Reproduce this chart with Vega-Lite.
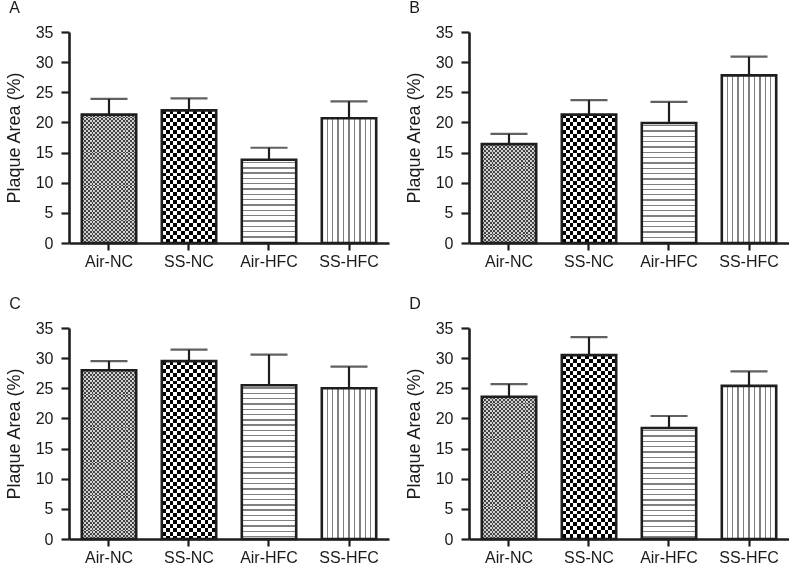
{
"$schema": "https://vega.github.io/schema/vega-lite/v6.json",
"background": "white",
"padding": {"left": 5, "top": 0, "right": 0, "bottom": 0},
"params": [
{"name": "hsStops", "value": [
{"offset":0.012,"color":"#fff"},{"offset":0.012,"color":"#808080"},{"offset":0.02,"color":"#808080"},{"offset":0.02,"color":"#fff"},
{"offset":0.04325,"color":"#fff"},{"offset":0.04325,"color":"#808080"},{"offset":0.05125,"color":"#808080"},{"offset":0.05125,"color":"#fff"},
{"offset":0.0745,"color":"#fff"},{"offset":0.0745,"color":"#808080"},{"offset":0.0825,"color":"#808080"},{"offset":0.0825,"color":"#fff"},
{"offset":0.10575,"color":"#fff"},{"offset":0.10575,"color":"#808080"},{"offset":0.11375,"color":"#808080"},{"offset":0.11375,"color":"#fff"},
{"offset":0.137,"color":"#fff"},{"offset":0.137,"color":"#808080"},{"offset":0.145,"color":"#808080"},{"offset":0.145,"color":"#fff"},
{"offset":0.16825,"color":"#fff"},{"offset":0.16825,"color":"#808080"},{"offset":0.17625,"color":"#808080"},{"offset":0.17625,"color":"#fff"},
{"offset":0.1995,"color":"#fff"},{"offset":0.1995,"color":"#808080"},{"offset":0.2075,"color":"#808080"},{"offset":0.2075,"color":"#fff"},
{"offset":0.23075,"color":"#fff"},{"offset":0.23075,"color":"#808080"},{"offset":0.23875,"color":"#808080"},{"offset":0.23875,"color":"#fff"},
{"offset":0.262,"color":"#fff"},{"offset":0.262,"color":"#808080"},{"offset":0.27,"color":"#808080"},{"offset":0.27,"color":"#fff"},
{"offset":0.29325,"color":"#fff"},{"offset":0.29325,"color":"#808080"},{"offset":0.30125,"color":"#808080"},{"offset":0.30125,"color":"#fff"},
{"offset":0.3245,"color":"#fff"},{"offset":0.3245,"color":"#808080"},{"offset":0.3325,"color":"#808080"},{"offset":0.3325,"color":"#fff"},
{"offset":0.35575,"color":"#fff"},{"offset":0.35575,"color":"#808080"},{"offset":0.36375,"color":"#808080"},{"offset":0.36375,"color":"#fff"},
{"offset":0.387,"color":"#fff"},{"offset":0.387,"color":"#808080"},{"offset":0.395,"color":"#808080"},{"offset":0.395,"color":"#fff"},
{"offset":0.41825,"color":"#fff"},{"offset":0.41825,"color":"#808080"},{"offset":0.42625,"color":"#808080"},{"offset":0.42625,"color":"#fff"},
{"offset":0.4495,"color":"#fff"},{"offset":0.4495,"color":"#808080"},{"offset":0.4575,"color":"#808080"},{"offset":0.4575,"color":"#fff"},
{"offset":0.48075,"color":"#fff"},{"offset":0.48075,"color":"#808080"},{"offset":0.48875,"color":"#808080"},{"offset":0.48875,"color":"#fff"},
{"offset":0.512,"color":"#fff"},{"offset":0.512,"color":"#808080"},{"offset":0.52,"color":"#808080"},{"offset":0.52,"color":"#fff"},
{"offset":0.54325,"color":"#fff"},{"offset":0.54325,"color":"#808080"},{"offset":0.55125,"color":"#808080"},{"offset":0.55125,"color":"#fff"},
{"offset":0.5745,"color":"#fff"},{"offset":0.5745,"color":"#808080"},{"offset":0.5825,"color":"#808080"},{"offset":0.5825,"color":"#fff"},
{"offset":0.60575,"color":"#fff"},{"offset":0.60575,"color":"#808080"},{"offset":0.61375,"color":"#808080"},{"offset":0.61375,"color":"#fff"},
{"offset":0.637,"color":"#fff"},{"offset":0.637,"color":"#808080"},{"offset":0.645,"color":"#808080"},{"offset":0.645,"color":"#fff"},
{"offset":0.66825,"color":"#fff"},{"offset":0.66825,"color":"#808080"},{"offset":0.67625,"color":"#808080"},{"offset":0.67625,"color":"#fff"},
{"offset":0.6995,"color":"#fff"},{"offset":0.6995,"color":"#808080"},{"offset":0.7075,"color":"#808080"},{"offset":0.7075,"color":"#fff"},
{"offset":0.73075,"color":"#fff"},{"offset":0.73075,"color":"#808080"},{"offset":0.73875,"color":"#808080"},{"offset":0.73875,"color":"#fff"},
{"offset":0.762,"color":"#fff"},{"offset":0.762,"color":"#808080"},{"offset":0.77,"color":"#808080"},{"offset":0.77,"color":"#fff"},
{"offset":0.79325,"color":"#fff"},{"offset":0.79325,"color":"#808080"},{"offset":0.80125,"color":"#808080"},{"offset":0.80125,"color":"#fff"},
{"offset":0.8245,"color":"#fff"},{"offset":0.8245,"color":"#808080"},{"offset":0.8325,"color":"#808080"},{"offset":0.8325,"color":"#fff"},
{"offset":0.85575,"color":"#fff"},{"offset":0.85575,"color":"#808080"},{"offset":0.86375,"color":"#808080"},{"offset":0.86375,"color":"#fff"},
{"offset":0.887,"color":"#fff"},{"offset":0.887,"color":"#808080"},{"offset":0.895,"color":"#808080"},{"offset":0.895,"color":"#fff"},
{"offset":0.91825,"color":"#fff"},{"offset":0.91825,"color":"#808080"},{"offset":0.92625,"color":"#808080"},{"offset":0.92625,"color":"#fff"},
{"offset":0.9495,"color":"#fff"},{"offset":0.9495,"color":"#808080"},{"offset":0.9575,"color":"#808080"},{"offset":0.9575,"color":"#fff"},
{"offset":0.98075,"color":"#fff"},{"offset":0.98075,"color":"#808080"},{"offset":0.98875,"color":"#808080"},{"offset":0.98875,"color":"#fff"}
]},
{"name": "vsStops", "value": [
{"offset":0.0875,"color":"#fff"},{"offset":0.0875,"color":"#808080"},{"offset":0.1125,"color":"#808080"},{"offset":0.1125,"color":"#fff"},
{"offset":0.1875,"color":"#fff"},{"offset":0.1875,"color":"#808080"},{"offset":0.2125,"color":"#808080"},{"offset":0.2125,"color":"#fff"},
{"offset":0.2875,"color":"#fff"},{"offset":0.2875,"color":"#808080"},{"offset":0.3125,"color":"#808080"},{"offset":0.3125,"color":"#fff"},
{"offset":0.3875,"color":"#fff"},{"offset":0.3875,"color":"#808080"},{"offset":0.4125,"color":"#808080"},{"offset":0.4125,"color":"#fff"},
{"offset":0.4875,"color":"#fff"},{"offset":0.4875,"color":"#808080"},{"offset":0.5125,"color":"#808080"},{"offset":0.5125,"color":"#fff"},
{"offset":0.5875,"color":"#fff"},{"offset":0.5875,"color":"#808080"},{"offset":0.6125,"color":"#808080"},{"offset":0.6125,"color":"#fff"},
{"offset":0.6875,"color":"#fff"},{"offset":0.6875,"color":"#808080"},{"offset":0.7125,"color":"#808080"},{"offset":0.7125,"color":"#fff"},
{"offset":0.7875,"color":"#fff"},{"offset":0.7875,"color":"#808080"},{"offset":0.8125,"color":"#808080"},{"offset":0.8125,"color":"#fff"},
{"offset":0.8875,"color":"#fff"},{"offset":0.8875,"color":"#808080"},{"offset":0.9125,"color":"#808080"},{"offset":0.9125,"color":"#fff"}
]},
{"name": "ckRows", "value": [
{"offset":0,"color":"#000"},{"offset":0.01,"color":"#000"},{"offset":0.01,"color":"#fff"},{"offset":0.02,"color":"#fff"},
{"offset":0.02,"color":"#000"},{"offset":0.03,"color":"#000"},{"offset":0.03,"color":"#fff"},{"offset":0.04,"color":"#fff"},
{"offset":0.04,"color":"#000"},{"offset":0.05,"color":"#000"},{"offset":0.05,"color":"#fff"},{"offset":0.06,"color":"#fff"},
{"offset":0.06,"color":"#000"},{"offset":0.07,"color":"#000"},{"offset":0.07,"color":"#fff"},{"offset":0.08,"color":"#fff"},
{"offset":0.08,"color":"#000"},{"offset":0.09,"color":"#000"},{"offset":0.09,"color":"#fff"},{"offset":0.1,"color":"#fff"},
{"offset":0.1,"color":"#000"},{"offset":0.11,"color":"#000"},{"offset":0.11,"color":"#fff"},{"offset":0.12,"color":"#fff"},
{"offset":0.12,"color":"#000"},{"offset":0.13,"color":"#000"},{"offset":0.13,"color":"#fff"},{"offset":0.14,"color":"#fff"},
{"offset":0.14,"color":"#000"},{"offset":0.15,"color":"#000"},{"offset":0.15,"color":"#fff"},{"offset":0.16,"color":"#fff"},
{"offset":0.16,"color":"#000"},{"offset":0.17,"color":"#000"},{"offset":0.17,"color":"#fff"},{"offset":0.18,"color":"#fff"},
{"offset":0.18,"color":"#000"},{"offset":0.19,"color":"#000"},{"offset":0.19,"color":"#fff"},{"offset":0.2,"color":"#fff"},
{"offset":0.2,"color":"#000"},{"offset":0.21,"color":"#000"},{"offset":0.21,"color":"#fff"},{"offset":0.22,"color":"#fff"},
{"offset":0.22,"color":"#000"},{"offset":0.23,"color":"#000"},{"offset":0.23,"color":"#fff"},{"offset":0.24,"color":"#fff"},
{"offset":0.24,"color":"#000"},{"offset":0.25,"color":"#000"},{"offset":0.25,"color":"#fff"},{"offset":0.26,"color":"#fff"},
{"offset":0.26,"color":"#000"},{"offset":0.27,"color":"#000"},{"offset":0.27,"color":"#fff"},{"offset":0.28,"color":"#fff"},
{"offset":0.28,"color":"#000"},{"offset":0.29,"color":"#000"},{"offset":0.29,"color":"#fff"},{"offset":0.3,"color":"#fff"},
{"offset":0.3,"color":"#000"},{"offset":0.31,"color":"#000"},{"offset":0.31,"color":"#fff"},{"offset":0.32,"color":"#fff"},
{"offset":0.32,"color":"#000"},{"offset":0.33,"color":"#000"},{"offset":0.33,"color":"#fff"},{"offset":0.34,"color":"#fff"},
{"offset":0.34,"color":"#000"},{"offset":0.35,"color":"#000"},{"offset":0.35,"color":"#fff"},{"offset":0.36,"color":"#fff"},
{"offset":0.36,"color":"#000"},{"offset":0.37,"color":"#000"},{"offset":0.37,"color":"#fff"},{"offset":0.38,"color":"#fff"},
{"offset":0.38,"color":"#000"},{"offset":0.39,"color":"#000"},{"offset":0.39,"color":"#fff"},{"offset":0.4,"color":"#fff"},
{"offset":0.4,"color":"#000"},{"offset":0.41,"color":"#000"},{"offset":0.41,"color":"#fff"},{"offset":0.42,"color":"#fff"},
{"offset":0.42,"color":"#000"},{"offset":0.43,"color":"#000"},{"offset":0.43,"color":"#fff"},{"offset":0.44,"color":"#fff"},
{"offset":0.44,"color":"#000"},{"offset":0.45,"color":"#000"},{"offset":0.45,"color":"#fff"},{"offset":0.46,"color":"#fff"},
{"offset":0.46,"color":"#000"},{"offset":0.47,"color":"#000"},{"offset":0.47,"color":"#fff"},{"offset":0.48,"color":"#fff"},
{"offset":0.48,"color":"#000"},{"offset":0.49,"color":"#000"},{"offset":0.49,"color":"#fff"},{"offset":0.5,"color":"#fff"},
{"offset":0.5,"color":"#000"},{"offset":0.51,"color":"#000"},{"offset":0.51,"color":"#fff"},{"offset":0.52,"color":"#fff"},
{"offset":0.52,"color":"#000"},{"offset":0.53,"color":"#000"},{"offset":0.53,"color":"#fff"},{"offset":0.54,"color":"#fff"},
{"offset":0.54,"color":"#000"},{"offset":0.55,"color":"#000"},{"offset":0.55,"color":"#fff"},{"offset":0.56,"color":"#fff"},
{"offset":0.56,"color":"#000"},{"offset":0.57,"color":"#000"},{"offset":0.57,"color":"#fff"},{"offset":0.58,"color":"#fff"},
{"offset":0.58,"color":"#000"},{"offset":0.59,"color":"#000"},{"offset":0.59,"color":"#fff"},{"offset":0.6,"color":"#fff"},
{"offset":0.6,"color":"#000"},{"offset":0.61,"color":"#000"},{"offset":0.61,"color":"#fff"},{"offset":0.62,"color":"#fff"},
{"offset":0.62,"color":"#000"},{"offset":0.63,"color":"#000"},{"offset":0.63,"color":"#fff"},{"offset":0.64,"color":"#fff"},
{"offset":0.64,"color":"#000"},{"offset":0.65,"color":"#000"},{"offset":0.65,"color":"#fff"},{"offset":0.66,"color":"#fff"},
{"offset":0.66,"color":"#000"},{"offset":0.67,"color":"#000"},{"offset":0.67,"color":"#fff"},{"offset":0.68,"color":"#fff"},
{"offset":0.68,"color":"#000"},{"offset":0.69,"color":"#000"},{"offset":0.69,"color":"#fff"},{"offset":0.7,"color":"#fff"},
{"offset":0.7,"color":"#000"},{"offset":0.71,"color":"#000"},{"offset":0.71,"color":"#fff"},{"offset":0.72,"color":"#fff"},
{"offset":0.72,"color":"#000"},{"offset":0.73,"color":"#000"},{"offset":0.73,"color":"#fff"},{"offset":0.74,"color":"#fff"},
{"offset":0.74,"color":"#000"},{"offset":0.75,"color":"#000"},{"offset":0.75,"color":"#fff"},{"offset":0.76,"color":"#fff"},
{"offset":0.76,"color":"#000"},{"offset":0.77,"color":"#000"},{"offset":0.77,"color":"#fff"},{"offset":0.78,"color":"#fff"},
{"offset":0.78,"color":"#000"},{"offset":0.79,"color":"#000"},{"offset":0.79,"color":"#fff"},{"offset":0.8,"color":"#fff"},
{"offset":0.8,"color":"#000"},{"offset":0.81,"color":"#000"},{"offset":0.81,"color":"#fff"},{"offset":0.82,"color":"#fff"},
{"offset":0.82,"color":"#000"},{"offset":0.83,"color":"#000"},{"offset":0.83,"color":"#fff"},{"offset":0.84,"color":"#fff"},
{"offset":0.84,"color":"#000"},{"offset":0.85,"color":"#000"},{"offset":0.85,"color":"#fff"},{"offset":0.86,"color":"#fff"},
{"offset":0.86,"color":"#000"},{"offset":0.87,"color":"#000"},{"offset":0.87,"color":"#fff"},{"offset":0.88,"color":"#fff"},
{"offset":0.88,"color":"#000"},{"offset":0.89,"color":"#000"},{"offset":0.89,"color":"#fff"},{"offset":0.9,"color":"#fff"},
{"offset":0.9,"color":"#000"},{"offset":0.91,"color":"#000"},{"offset":0.91,"color":"#fff"},{"offset":0.92,"color":"#fff"},
{"offset":0.92,"color":"#000"},{"offset":0.93,"color":"#000"},{"offset":0.93,"color":"#fff"},{"offset":0.94,"color":"#fff"},
{"offset":0.94,"color":"#000"},{"offset":0.95,"color":"#000"},{"offset":0.95,"color":"#fff"},{"offset":0.96,"color":"#fff"},
{"offset":0.96,"color":"#000"},{"offset":0.97,"color":"#000"},{"offset":0.97,"color":"#fff"},{"offset":0.98,"color":"#fff"},
{"offset":0.98,"color":"#000"},{"offset":0.99,"color":"#000"},{"offset":0.99,"color":"#fff"},{"offset":1,"color":"#fff"}
]},
{"name": "ckCols", "value": [
{"offset":0,"color":"#000"},{"offset":0.035714,"color":"#000"},{"offset":0.035714,"color":"#fff"},{"offset":0.071429,"color":"#fff"},
{"offset":0.071429,"color":"#000"},{"offset":0.107143,"color":"#000"},{"offset":0.107143,"color":"#fff"},{"offset":0.142857,"color":"#fff"},
{"offset":0.142857,"color":"#000"},{"offset":0.178571,"color":"#000"},{"offset":0.178571,"color":"#fff"},{"offset":0.214286,"color":"#fff"},
{"offset":0.214286,"color":"#000"},{"offset":0.25,"color":"#000"},{"offset":0.25,"color":"#fff"},{"offset":0.285714,"color":"#fff"},
{"offset":0.285714,"color":"#000"},{"offset":0.321429,"color":"#000"},{"offset":0.321429,"color":"#fff"},{"offset":0.357143,"color":"#fff"},
{"offset":0.357143,"color":"#000"},{"offset":0.392857,"color":"#000"},{"offset":0.392857,"color":"#fff"},{"offset":0.428571,"color":"#fff"},
{"offset":0.428571,"color":"#000"},{"offset":0.464286,"color":"#000"},{"offset":0.464286,"color":"#fff"},{"offset":0.5,"color":"#fff"},
{"offset":0.5,"color":"#000"},{"offset":0.535714,"color":"#000"},{"offset":0.535714,"color":"#fff"},{"offset":0.571429,"color":"#fff"},
{"offset":0.571429,"color":"#000"},{"offset":0.607143,"color":"#000"},{"offset":0.607143,"color":"#fff"},{"offset":0.642857,"color":"#fff"},
{"offset":0.642857,"color":"#000"},{"offset":0.678571,"color":"#000"},{"offset":0.678571,"color":"#fff"},{"offset":0.714286,"color":"#fff"},
{"offset":0.714286,"color":"#000"},{"offset":0.75,"color":"#000"},{"offset":0.75,"color":"#fff"},{"offset":0.785714,"color":"#fff"},
{"offset":0.785714,"color":"#000"},{"offset":0.821429,"color":"#000"},{"offset":0.821429,"color":"#fff"},{"offset":0.857143,"color":"#fff"},
{"offset":0.857143,"color":"#000"},{"offset":0.892857,"color":"#000"},{"offset":0.892857,"color":"#fff"},{"offset":0.928571,"color":"#fff"},
{"offset":0.928571,"color":"#000"},{"offset":0.964286,"color":"#000"},{"offset":0.964286,"color":"#fff"},{"offset":1,"color":"#fff"}
]}
],
"data": {"values": [
{"panel":"A","group":"Air-NC","mean":21.3,"hi":23.9},
{"panel":"A","group":"SS-NC","mean":22.0,"hi":24.0},
{"panel":"A","group":"Air-HFC","mean":13.8,"hi":15.8},
{"panel":"A","group":"SS-HFC","mean":20.7,"hi":23.5},
{"panel":"B","group":"Air-NC","mean":16.4,"hi":18.1},
{"panel":"B","group":"SS-NC","mean":21.3,"hi":23.7},
{"panel":"B","group":"Air-HFC","mean":19.9,"hi":23.4},
{"panel":"B","group":"SS-HFC","mean":27.8,"hi":30.9},
{"panel":"C","group":"Air-NC","mean":28.0,"hi":29.5},
{"panel":"C","group":"SS-NC","mean":29.5,"hi":31.4},
{"panel":"C","group":"Air-HFC","mean":25.5,"hi":30.6},
{"panel":"C","group":"SS-HFC","mean":25.0,"hi":28.6},
{"panel":"D","group":"Air-NC","mean":23.6,"hi":25.7},
{"panel":"D","group":"SS-NC","mean":30.5,"hi":33.5},
{"panel":"D","group":"Air-HFC","mean":18.4,"hi":20.4},
{"panel":"D","group":"SS-HFC","mean":25.4,"hi":27.8}
]},
"columns": 2,
"spacing": {"row": 27, "column": 16},
"concat": [
{"title": "A", "width": 320, "height": 211,
 "transform": [{"filter": "datum.panel==='A'"}],
 "encoding": {
  "x": {"field": "group", "type": "nominal", "sort": ["Air-NC","SS-NC","Air-HFC","SS-HFC"], "title": null, "scale": {"paddingInner": 0.32, "paddingOuter": 0.16}},
  "y": {"field": "mean", "type": "quantitative", "title": "Plaque Area (%)", "scale": {"domain": [0, 35], "nice": false}, "axis": {"values": [0,5,10,15,20,25,30,35]}}
 },
 "layer": [
  {"mark": {"type": "bar", "strokeWidth": 0, "fill": {"expr": "datum.group==='Air-HFC' ? {'gradient':'linear','x1':0,'y1':0,'x2':0,'y2':170/(datum.mean*6.0286),'stops':hsStops} : datum.group==='SS-HFC' ? {'gradient':'linear','x1':0,'y1':0,'x2':1,'y2':0,'stops':vsStops} : datum.group==='SS-NC' ? {'gradient':'linear','x1':0,'y1':0,'x2':0,'y2':388.6/(datum.mean*6.0286),'stops':ckRows} : {'gradient':'linear','x1':0,'y1':0,'x2':0,'y2':194.3/(datum.mean*6.0286),'stops':ckRows}"}}},
  {"transform": [{"filter": "datum.group==='Air-NC' || datum.group==='SS-NC'"}],
   "mark": {"type": "bar", "strokeWidth": 0, "blend": "difference", "fill": {"expr": "{'gradient':'linear','x1':0,'y1':0,'x2':(datum.group==='SS-NC'?2:1),'y2':0,'stops':ckCols}"}}},
  {"mark": {"type": "rule", "color": "#1e1e1e", "strokeWidth": 2.2}, "encoding": {"y2": {"field": "hi"}}},
  {"mark": {"type": "bar", "fill": {"expr": "datum.group==='Air-NC' ? 'rgba(150,150,150,0.45)' : 'rgba(0,0,0,0)'"}, "stroke": "#1e1e1e", "strokeWidth": 2.6}},
  {"mark": {"type": "tick", "color": "#1e1e1e", "thickness": 2.2, "size": 37}, "encoding": {"y": {"field": "hi", "type": "quantitative", "title": "Plaque Area (%)"}}}
 ]
},
{"title": "B", "width": 320, "height": 211,
 "transform": [{"filter": "datum.panel==='B'"}],
 "encoding": {
  "x": {"field": "group", "type": "nominal", "sort": ["Air-NC","SS-NC","Air-HFC","SS-HFC"], "title": null, "scale": {"paddingInner": 0.32, "paddingOuter": 0.16}},
  "y": {"field": "mean", "type": "quantitative", "title": "Plaque Area (%)", "scale": {"domain": [0, 35], "nice": false}, "axis": {"values": [0,5,10,15,20,25,30,35]}}
 },
 "layer": [
  {"mark": {"type": "bar", "strokeWidth": 0, "fill": {"expr": "datum.group==='Air-HFC' ? {'gradient':'linear','x1':0,'y1':0,'x2':0,'y2':170/(datum.mean*6.0286),'stops':hsStops} : datum.group==='SS-HFC' ? {'gradient':'linear','x1':0,'y1':0,'x2':1,'y2':0,'stops':vsStops} : datum.group==='SS-NC' ? {'gradient':'linear','x1':0,'y1':0,'x2':0,'y2':388.6/(datum.mean*6.0286),'stops':ckRows} : {'gradient':'linear','x1':0,'y1':0,'x2':0,'y2':194.3/(datum.mean*6.0286),'stops':ckRows}"}}},
  {"transform": [{"filter": "datum.group==='Air-NC' || datum.group==='SS-NC'"}],
   "mark": {"type": "bar", "strokeWidth": 0, "blend": "difference", "fill": {"expr": "{'gradient':'linear','x1':0,'y1':0,'x2':(datum.group==='SS-NC'?2:1),'y2':0,'stops':ckCols}"}}},
  {"mark": {"type": "rule", "color": "#1e1e1e", "strokeWidth": 2.2}, "encoding": {"y2": {"field": "hi"}}},
  {"mark": {"type": "bar", "fill": {"expr": "datum.group==='Air-NC' ? 'rgba(150,150,150,0.45)' : 'rgba(0,0,0,0)'"}, "stroke": "#1e1e1e", "strokeWidth": 2.6}},
  {"mark": {"type": "tick", "color": "#1e1e1e", "thickness": 2.2, "size": 37}, "encoding": {"y": {"field": "hi", "type": "quantitative", "title": "Plaque Area (%)"}}}
 ]
},
{"title": "C", "width": 320, "height": 211,
 "transform": [{"filter": "datum.panel==='C'"}],
 "encoding": {
  "x": {"field": "group", "type": "nominal", "sort": ["Air-NC","SS-NC","Air-HFC","SS-HFC"], "title": null, "scale": {"paddingInner": 0.32, "paddingOuter": 0.16}},
  "y": {"field": "mean", "type": "quantitative", "title": "Plaque Area (%)", "scale": {"domain": [0, 35], "nice": false}, "axis": {"values": [0,5,10,15,20,25,30,35]}}
 },
 "layer": [
  {"mark": {"type": "bar", "strokeWidth": 0, "fill": {"expr": "datum.group==='Air-HFC' ? {'gradient':'linear','x1':0,'y1':0,'x2':0,'y2':170/(datum.mean*6.0286),'stops':hsStops} : datum.group==='SS-HFC' ? {'gradient':'linear','x1':0,'y1':0,'x2':1,'y2':0,'stops':vsStops} : datum.group==='SS-NC' ? {'gradient':'linear','x1':0,'y1':0,'x2':0,'y2':388.6/(datum.mean*6.0286),'stops':ckRows} : {'gradient':'linear','x1':0,'y1':0,'x2':0,'y2':194.3/(datum.mean*6.0286),'stops':ckRows}"}}},
  {"transform": [{"filter": "datum.group==='Air-NC' || datum.group==='SS-NC'"}],
   "mark": {"type": "bar", "strokeWidth": 0, "blend": "difference", "fill": {"expr": "{'gradient':'linear','x1':0,'y1':0,'x2':(datum.group==='SS-NC'?2:1),'y2':0,'stops':ckCols}"}}},
  {"mark": {"type": "rule", "color": "#1e1e1e", "strokeWidth": 2.2}, "encoding": {"y2": {"field": "hi"}}},
  {"mark": {"type": "bar", "fill": {"expr": "datum.group==='Air-NC' ? 'rgba(150,150,150,0.45)' : 'rgba(0,0,0,0)'"}, "stroke": "#1e1e1e", "strokeWidth": 2.6}},
  {"mark": {"type": "tick", "color": "#1e1e1e", "thickness": 2.2, "size": 37}, "encoding": {"y": {"field": "hi", "type": "quantitative", "title": "Plaque Area (%)"}}}
 ]
},
{"title": "D", "width": 320, "height": 211,
 "transform": [{"filter": "datum.panel==='D'"}],
 "encoding": {
  "x": {"field": "group", "type": "nominal", "sort": ["Air-NC","SS-NC","Air-HFC","SS-HFC"], "title": null, "scale": {"paddingInner": 0.32, "paddingOuter": 0.16}},
  "y": {"field": "mean", "type": "quantitative", "title": "Plaque Area (%)", "scale": {"domain": [0, 35], "nice": false}, "axis": {"values": [0,5,10,15,20,25,30,35]}}
 },
 "layer": [
  {"mark": {"type": "bar", "strokeWidth": 0, "fill": {"expr": "datum.group==='Air-HFC' ? {'gradient':'linear','x1':0,'y1':0,'x2':0,'y2':170/(datum.mean*6.0286),'stops':hsStops} : datum.group==='SS-HFC' ? {'gradient':'linear','x1':0,'y1':0,'x2':1,'y2':0,'stops':vsStops} : datum.group==='SS-NC' ? {'gradient':'linear','x1':0,'y1':0,'x2':0,'y2':388.6/(datum.mean*6.0286),'stops':ckRows} : {'gradient':'linear','x1':0,'y1':0,'x2':0,'y2':194.3/(datum.mean*6.0286),'stops':ckRows}"}}},
  {"transform": [{"filter": "datum.group==='Air-NC' || datum.group==='SS-NC'"}],
   "mark": {"type": "bar", "strokeWidth": 0, "blend": "difference", "fill": {"expr": "{'gradient':'linear','x1':0,'y1':0,'x2':(datum.group==='SS-NC'?2:1),'y2':0,'stops':ckCols}"}}},
  {"mark": {"type": "rule", "color": "#1e1e1e", "strokeWidth": 2.2}, "encoding": {"y2": {"field": "hi"}}},
  {"mark": {"type": "bar", "fill": {"expr": "datum.group==='Air-NC' ? 'rgba(150,150,150,0.45)' : 'rgba(0,0,0,0)'"}, "stroke": "#1e1e1e", "strokeWidth": 2.6}},
  {"mark": {"type": "tick", "color": "#1e1e1e", "thickness": 2.2, "size": 37}, "encoding": {"y": {"field": "hi", "type": "quantitative", "title": "Plaque Area (%)"}}}
 ]
}
],
"config": {
 "view": {"stroke": null},
 "font": "Liberation Sans",
 "axis": {"labelFont": "Liberation Sans", "labelFontSize": 16, "labelColor": "#1a1a1a", "titleFont": "Liberation Sans", "titleFontSize": 18, "titleFontWeight": "normal", "titleColor": "#1a1a1a", "domainColor": "#1e1e1e", "domainWidth": 2.6, "tickColor": "#1e1e1e", "tickWidth": 2.2, "grid": false},
 "axisX": {"tickSize": 7, "labelPadding": 3, "labelAngle": 0},
 "axisY": {"tickSize": 8, "labelPadding": 8, "titlePadding": 12},
 "title": {"font": "Liberation Sans", "fontSize": 16, "fontWeight": "normal", "anchor": "start", "frame": "bounds", "color": "#1a1a1a", "offset": 8, "dx": 4}
}
}
